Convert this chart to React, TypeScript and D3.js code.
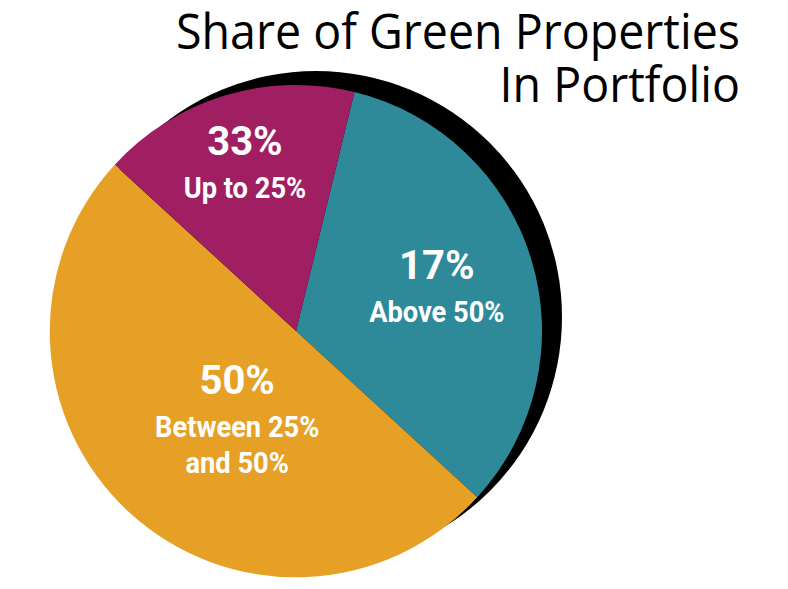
import React, { useEffect, useRef } from "react";
import * as d3 from "d3";

// wedges listed clockwise, starting with the one that begins just right of 12 o'clock
const categories = ["Above 50%", "Between 25% and 50%", "Up to 25%"];
// wedge sizes as they are drawn in the picture
const sliceShares = [33, 50, 17];
// numbers printed on the wedges (as printed, not as sized)
const percentLabels = ["17%", "50%", "33%"];
const categoryLines = [["Above 50%"], ["Between 25%", "and 50%"], ["Up to 25%"]];
const sliceColors = ["#2E8A99", "#E6A026", "#A01F62"];
const titleLines = ["Share of Green Properties", "In Portfolio"];

const WIDTH = 788;
const HEIGHT = 589;

export default function App() {
  const svgRef = useRef<SVGSVGElement>(null);

  useEffect(() => {
    if (!svgRef.current) return;
    const svg = d3.select(svgRef.current);
    svg.selectAll("*").remove();

    const cx = 296;
    const cy = 331;
    const radius = 246;
    const startAngle = (13.75 * Math.PI) / 180;

    const data = categories.map((name, i) => ({
      name,
      share: sliceShares[i],
      percent: percentLabels[i],
      lines: categoryLines[i],
      color: sliceColors[i],
    }));
    type Datum = (typeof data)[number];

    const pie = d3
      .pie<Datum>()
      .value((d) => d.share)
      .sort(null)
      .startAngle(startAngle)
      .endAngle(startAngle + 2 * Math.PI);

    const arc = d3
      .arc<d3.PieArcDatum<Datum>>()
      .innerRadius(0)
      .outerRadius(radius);

    // black "shadow" disc peeking out top-right
    svg
      .append("circle")
      .attr("cx", cx + 20)
      .attr("cy", cy - 14)
      .attr("r", radius)
      .attr("fill", "#000");

    const g = svg.append("g").attr("transform", `translate(${cx},${cy})`);
    const arcs = pie(data);

    g.selectAll("path")
      .data(arcs)
      .enter()
      .append("path")
      .attr("d", arc)
      .attr("fill", (d) => d.data.color);

    // label spots: distance from centre and a small angle nudge per wedge
    const labelSpots = [
      { r: 150, nudge: -3.3 },
      { r: 86, nudge: 0.6 },
      { r: 183, nudge: 0.65 },
    ];

    arcs.forEach((d, i) => {
      const mid = (d.startAngle + d.endAngle) / 2 + (labelSpots[i].nudge * Math.PI) / 180;
      const x = Math.sin(mid) * labelSpots[i].r;
      const y = -Math.cos(mid) * labelSpots[i].r;

      g.append("text")
        .attr("x", x)
        .attr("y", y)
        .attr("text-anchor", "middle")
        .attr("font-family", "Roboto, 'Liberation Sans', sans-serif")
        .attr("font-weight", 700)
        .attr("font-size", 40)
        .attr("fill", "#fff")
        .text(d.data.percent);

      d.data.lines.forEach((line, j) => {
        g.append("text")
          .attr("transform", `translate(${x},${y + 43 + j * 36}) scale(0.94,1)`)
          .attr("text-anchor", "middle")
          .attr("font-family", "Roboto, 'Liberation Sans', sans-serif")
          .attr("font-weight", 700)
          .attr("font-size", 29)
          .attr("fill", "#fff")
          .text(line);
      });
    });

    // title, right aligned
    titleLines.forEach((line, i) => {
      svg
        .append("text")
        .attr("transform", `translate(740,${49 + i * 53}) scale(0.95,1)`)
        .attr("text-anchor", "end")
        .attr("font-family", "'Open Sans', 'Noto Sans', sans-serif")
        .attr("font-weight", 400)
        .attr("font-size", 49)
        .attr("fill", "#000")
        .text(line);
    });
  }, []);

  return (
    <svg
      ref={svgRef}
      width={WIDTH}
      height={HEIGHT}
      style={{ position: "absolute", left: 0, top: 0, background: "#fff" }}
    />
  );
}
